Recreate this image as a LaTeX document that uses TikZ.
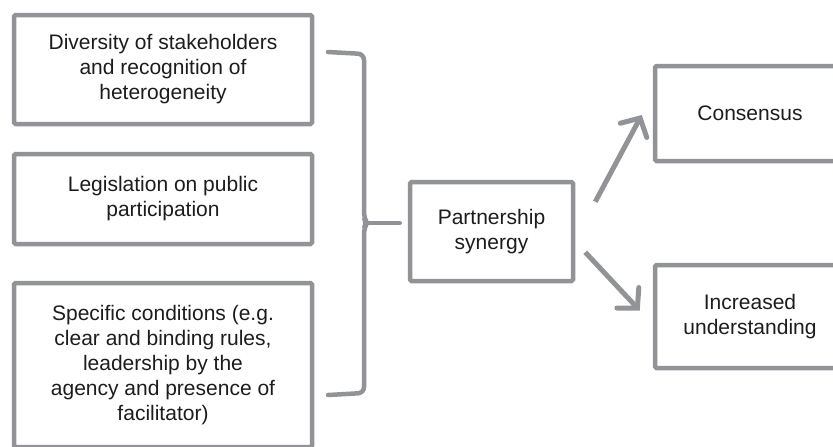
\documentclass[tikz,border=0pt]{standalone}
\usepackage{fontspec}
\setmainfont{Liberation Sans}
\usetikzlibrary{arrows.meta}
\definecolor{framegray}{RGB}{146,147,151}
\definecolor{inkgray}{RGB}{30,27,28}

\begin{document}
\begin{tikzpicture}[x=1pt, y=-1pt,
    box/.style={draw=framegray, line width=4.5pt, rounded corners=1.5pt, align=center,
      text=inkgray, font=\fontsize{21}{25}\selectfont, inner sep=0pt},
    brace/.style={draw=framegray, line width=4.5pt, line cap=round, rounded corners=6pt},
    arr/.style={draw=framegray, line width=5pt,
      -{Straight Barb[length=14pt, width=30pt, line cap=round]}}]
      \useasboundingbox (0,0) rectangle (833,447);
      \clip (0,0) rectangle (833,447);

      \node[box, minimum width=298, minimum height=109] (div) at (163,69.5)
        {Diversity of stakeholders\\and recognition of\\heterogeneity};
      \node[box, minimum width=298, minimum height=90] (leg) at (163,199)
        {Legislation on public\\participation};
      \node[box, minimum width=298, minimum height=164] (cond) at (163,365)
        {Specific conditions (e.g.\\clear and binding rules,\\leadership by the\\agency and presence of\\facilitator)};

      \node[box, minimum width=163, minimum height=99] (syn) at (491.5,231.5)
        {Partnership\\synergy};
      \node[box, minimum width=190, minimum height=95] (cons) at (750,113.5)
        {Consensus};
      \node[box, minimum width=190, minimum height=103] (undr) at (750,316.5)
        {Increased\\understanding};

      \coordinate (tip) at ([shift={(-8,-8.5)}]syn.west);
      \draw[brace] (328,52) -- (364,54) -- (364,218) -- (367,223) -- (364,228) -- (364,393) -- (328,395);
      \draw[brace] (366,223) -- (tip);

      \coordinate (a1) at ([shift={(20,22)}]syn.north east);
      \coordinate (b1) at ([shift={(-11,1.5)}]cons.west);
      \coordinate (a2) at ([shift={(10,-31)}]syn.south east);
      \coordinate (b2) at ([shift={(-13,-6)}]undr.west);
      \draw[arr] (a1) -- (b1);
      \draw[arr] (a2) -- (b2);
\end{tikzpicture}
\end{document}
